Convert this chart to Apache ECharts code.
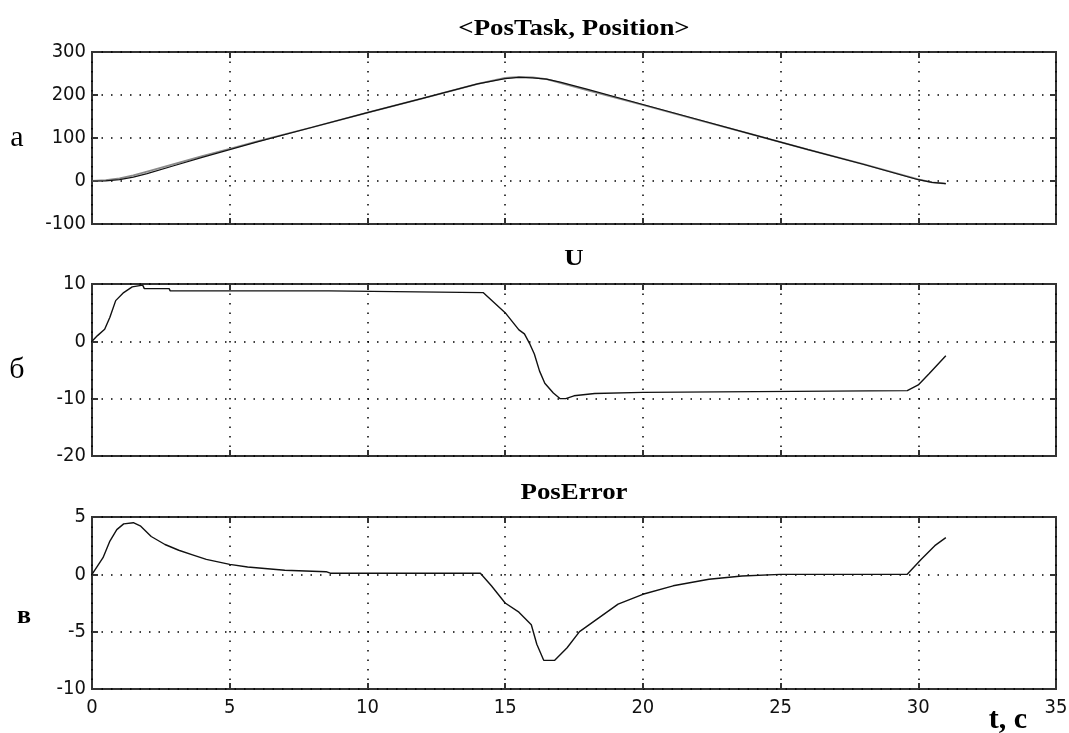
<!DOCTYPE html>
<html>
<head>
<meta charset="utf-8">
<script src="https://cdn.jsdelivr.net/npm/echarts@6/dist/echarts.min.js"></script>
<style>
html,body{margin:0;padding:0;background:#fff;}
#chart{width:1069px;height:733px;}
</style>
</head>
<body>
<div id="chart"></div>
<script>
// ---- data ----
const xTicks = [0, 5, 10, 15, 20, 25, 30, 35];

const titles = ['<PosTask, Position>', 'U', 'PosError'];
const sideLabels = ['а', 'б', 'в'];
const xAxisName = 't, с';

// Panel a: PosTask (grey) and Position (black)
const tTask = [0, 0.5, 1, 1.5, 2, 3, 4, 5, 6, 8, 10, 12, 14, 15, 15.5, 16, 16.5, 17, 18, 20, 22, 24, 26, 28, 30, 30.5, 31];
const posTask = [0, 2, 6, 13, 22, 40, 58, 75, 92, 125, 159, 192, 226, 240, 242, 241, 237, 228, 211, 177, 142, 108, 73, 39, 4, -3, -6];
const tPosition = [0, 0.5, 1, 1.5, 2, 3, 4, 5, 6, 8, 10, 12, 14, 15, 15.5, 16, 16.5, 17, 18, 20, 22, 24, 26, 28, 30, 30.5, 31];
const position = [0, 0.5, 3, 9, 17, 36, 55, 73, 91, 125, 159, 192, 226, 238, 241, 240, 237, 230, 213, 178, 143, 108, 73, 39, 3, -3, -6];

// Panel б: U
const tU = [0, 0.2, 0.46, 0.65, 0.86, 1.15, 1.46, 1.84, 1.9, 2.8, 2.84, 8.6, 8.65, 14.2, 15, 15.5, 15.7, 15.9, 16.06, 16.25, 16.44, 16.75, 17.0, 17.2, 17.5, 18.25, 20, 20.06, 29.6, 30.0, 30.4, 31.0];
const uVals = [0, 1.0, 2.1, 4.2, 7.1, 8.5, 9.5, 9.8, 9.2, 9.2, 8.8, 8.8, 8.5, 8.5, 5.0, 2.0, 1.3, -0.5, -2.2, -5.2, -7.3, -9.0, -10.0, -10.0, -9.5, -9.1, -8.9, -8.6, -8.6, -7.6, -5.6, -2.5];

// Panel в: PosError
const tErr = [0, 0.4, 0.65, 0.9, 1.15, 1.5, 1.77, 2.15, 2.65, 3.15, 3.65, 4.15, 5, 5.65, 7.0, 8.5, 8.65, 14.1, 14.5, 15, 15.5, 15.95, 16.15, 16.4, 16.8, 17.25, 17.7, 18.4, 19.1, 20, 21.1, 22.4, 23.6, 25, 29.6, 30.1, 30.6, 31.0];
const errVals = [0, 1.45, 2.9, 3.9, 4.4, 4.5, 4.2, 3.3, 2.6, 2.1, 1.7, 1.3, 0.87, 0.64, 0.35, 0.23, 0.1, 0.1, -1.0, -2.5, -3.3, -4.4, -6.1, -7.5, -7.5, -6.4, -5.0, -3.8, -2.6, -1.74, -1.0, -0.43, -0.14, 0, 0, 1.3, 2.5, 3.2];

// y-axis ranges / tick steps
const yMin = [-100, -20, -10];
const yMax = [300, 10, 5];
const yStep = [100, 10, 5];

// ---- build chart ----
const zip = (xs, ys) => xs.map((x, i) => [x, ys[i]]);
const chart = echarts.init(document.getElementById('chart'), null, {renderer: 'canvas'});

const tickFamily = 'DejaVu Sans Condensed';
const tickFont = {fontFamily: tickFamily, fontSize: 20, color: '#111'};
const frameColor = '#333';
const gridTops = [52, 284, 517];
const gridH = 172;

const grid = gridTops.map(t => ({
  left: 92, right: 13, top: t, height: gridH,
  outerBoundsMode: 'none', containLabel: false,
  show: true, borderColor: frameColor, borderWidth: 2, backgroundColor: 'transparent'
}));

const tickStyle = {show: true, inside: true, length: 6, lineStyle: {color: frameColor, width: 2}};
const dotted = {show: true, lineStyle: {color: '#000', width: 1.5, type: [1.5, 8]}};
const lastX = xTicks[xTicks.length - 1];

const xAxis = [];
const yAxis = [];
for (let g = 0; g < 3; g++) {
  xAxis.push({
    type: 'value', gridIndex: g, position: 'bottom', min: xTicks[0], max: lastX, interval: 5,
    axisLine: {show: false, onZero: false},
    axisTick: tickStyle,
    axisLabel: Object.assign({show: g === 2, margin: 9, hideOverlap: false}, tickFont),
    splitLine: dotted
  });
  xAxis.push({
    type: 'value', gridIndex: g, position: 'top', min: xTicks[0], max: lastX, interval: 5,
    axisLine: {show: false, onZero: false},
    axisTick: tickStyle,
    axisLabel: {show: false}, splitLine: {show: false}
  });
  yAxis.push({
    type: 'value', gridIndex: g, position: 'left', min: yMin[g], max: yMax[g], interval: yStep[g],
    axisLine: {show: false, onZero: false},
    axisTick: tickStyle,
    axisLabel: Object.assign({show: true, margin: 6}, tickFont),
    splitLine: dotted
  });
  yAxis.push({
    type: 'value', gridIndex: g, position: 'right', min: yMin[g], max: yMax[g], interval: yStep[g],
    axisLine: {show: false, onZero: false},
    axisTick: tickStyle,
    axisLabel: {show: false}, splitLine: {show: false}
  });
}

const lineSeries = (name, data, g, color, width) => ({
  name, type: 'line', data, xAxisIndex: g * 2, yAxisIndex: g * 2,
  showSymbol: false, symbol: 'none', smooth: false, animation: false,
  lineStyle: {color, width}, z: 5
});

const series = [
  lineSeries('PosTask', zip(tTask, posTask), 0, '#8a8a8a', 1.8),
  lineSeries('Position', zip(tPosition, position), 0, '#111', 1.2),
  lineSeries('U', zip(tU, uVals), 1, '#111', 1.4),
  lineSeries('PosError', zip(tErr, errVals), 2, '#111', 1.4)
];

const serif = '"Liberation Serif", "Times New Roman", serif';
const titleY = [29, 259, 493];
const sideY = [138, 370, 616];
const sideX = [17, 17, 24];
const sideFont = ['30px ', '30px ', 'bold 26px '];
const graphic = [];
for (let g = 0; g < 3; g++) {
  graphic.push({type: 'text', x: 574, y: titleY[g], scaleX: 1.12, style: {text: titles[g], font: 'bold 24px ' + serif, fill: '#000', textAlign: 'center', textVerticalAlign: 'middle'}});
  graphic.push({type: 'text', x: sideX[g], y: sideY[g], style: {text: sideLabels[g], font: sideFont[g] + serif, fill: '#000', textAlign: 'center', textVerticalAlign: 'middle'}});
}
graphic.push({type: 'text', x: 1008, y: 720, style: {text: xAxisName, font: 'bold 30px ' + serif, fill: '#000', textAlign: 'center', textVerticalAlign: 'middle'}});

chart.setOption({
  animation: false,
  backgroundColor: '#fff',
  grid, xAxis, yAxis, series, graphic
});
</script>
</body>
</html>
